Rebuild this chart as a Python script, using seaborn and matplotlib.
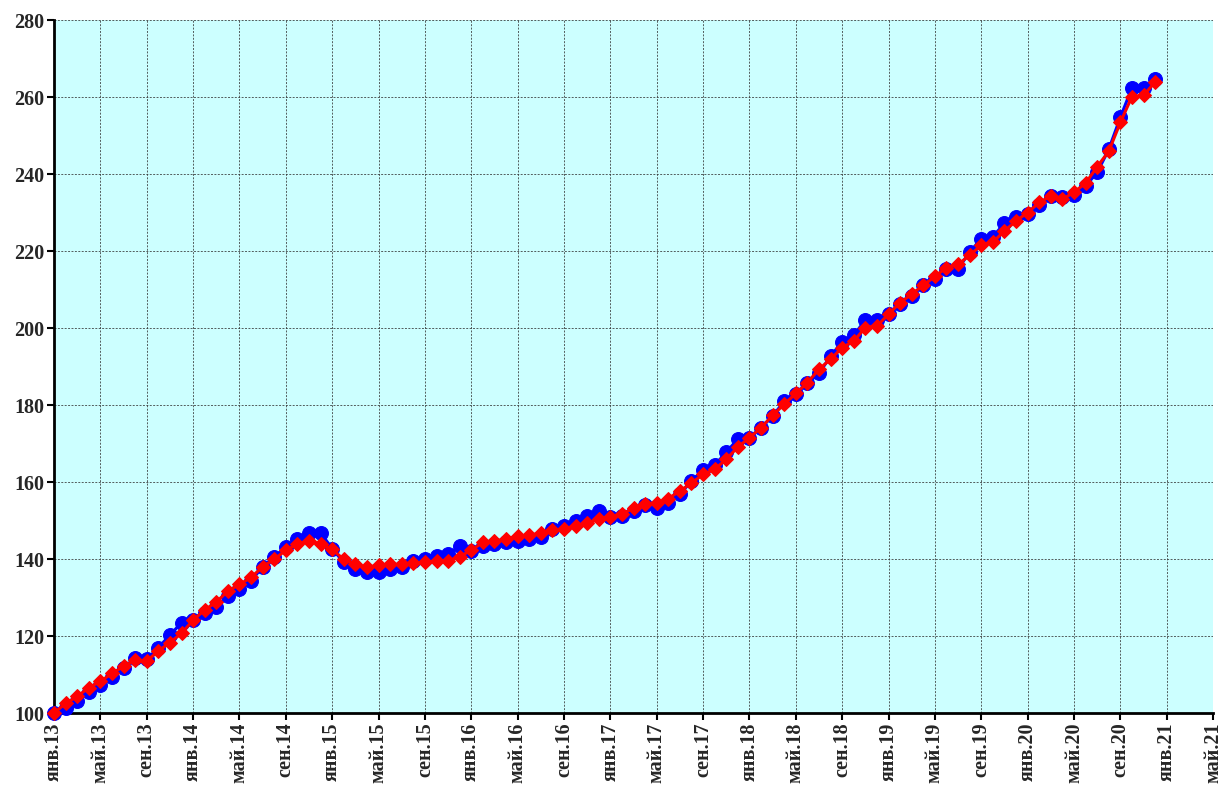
import matplotlib
matplotlib.use('Agg')
import matplotlib.pyplot as plt
import seaborn as sns
import pandas as pd
import numpy as np

# monthly index values, Jan 2013 = 100 (Jan 2013 .. Dec 2020)
blue_values = [
    100.0, 101.4, 103.1, 105.5, 107.2, 109.4, 111.6, 114.4, 113.9, 117.0, 120.2, 123.5,
    124.1, 126.1, 127.6, 130.4, 132.1, 134.3, 138.0, 140.4, 143.0, 145.1, 146.8, 146.8,
    142.7, 139.1, 137.3, 136.5, 136.5, 137.3, 137.8, 139.5, 139.9, 140.8, 141.2, 143.4,
    142.0, 143.4, 143.8, 144.3, 144.7, 145.1, 145.6, 147.9, 148.7, 149.8, 151.2, 152.5,
    151.0, 151.2, 152.5, 153.9, 153.3, 154.5, 156.8, 160.3, 163.1, 164.3, 167.8, 171.1,
    171.5, 174.1, 177.1, 181.0, 182.8, 185.7, 188.2, 192.7, 196.4, 198.1, 202.1, 202.1,
    203.6, 206.2, 208.3, 211.1, 212.8, 215.2, 215.4, 219.7, 223.2, 223.7, 227.2, 228.9,
    229.5, 231.9, 234.3, 233.9, 234.5, 236.9, 240.4, 246.4, 254.7, 262.4, 262.4, 264.6,
]
red_values = [
    100.0, 102.5, 104.3, 106.6, 108.2, 110.3, 112.1, 113.7, 113.5, 116.1, 118.3, 120.7,
    124.1, 126.8, 128.8, 131.7, 133.4, 135.2, 138.0, 139.9, 142.3, 143.8, 144.7, 143.8,
    142.5, 139.9, 138.6, 137.8, 138.4, 138.6, 138.6, 138.9, 139.2, 139.5, 139.5, 140.6,
    142.3, 144.3, 144.7, 145.1, 146.0, 146.2, 146.7, 147.5, 147.7, 148.7, 149.3, 150.3,
    151.0, 151.6, 153.3, 154.4, 154.5, 155.7, 157.7, 159.7, 162.0, 163.3, 165.9, 169.1,
    171.5, 174.1, 177.3, 180.2, 183.0, 185.8, 189.3, 191.9, 194.9, 196.6, 200.1, 200.5,
    203.6, 206.6, 208.8, 211.1, 213.4, 215.7, 216.5, 218.9, 221.5, 222.3, 225.2, 227.8,
    230.0, 232.6, 234.3, 233.4, 235.3, 237.6, 241.9, 245.9, 253.4, 260.1, 260.4, 263.9,
]
month_names = ['янв', 'май', 'сен']
tick_years = [13, 14, 15, 16, 17, 18, 19, 20, 21]
tick_labels = [f'{m}.{y}' for y in tick_years for m in month_names][:26]

months = np.arange(len(blue_values))
df = pd.DataFrame({'month': months, 'blue': blue_values, 'red': red_values})

sns.set_style('ticks', rc={'axes.facecolor': '#CCFFFF'})
plt.rcParams['font.family'] = ['Liberation Serif', 'DejaVu Serif']

fig = plt.figure(figsize=(12.22, 7.94), dpi=100)
ax = fig.add_axes([0.0442, 0.102, 0.9485, 0.8728])

sns.lineplot(data=df, x='month', y='blue', ax=ax, color='#0000FF', linewidth=2.2,
             marker='o', markersize=10, markeredgecolor='#0000FF', zorder=3, clip_on=False)
sns.lineplot(data=df, x='month', y='red', ax=ax, color='#FF0000', linewidth=2.2,
             marker='D', markersize=7.5, markeredgecolor='#FF0000', zorder=4, clip_on=False)

ax.set_xlim(0, 100)
ax.set_ylim(100, 280)
ax.set_xticks(np.arange(0, 101, 4))
ax.set_xticklabels(tick_labels, rotation=90, fontsize=14.5, fontweight='bold')
ax.set_yticks(np.arange(100, 281, 20))
ax.set_yticklabels([str(v) for v in range(100, 281, 20)], fontsize=14.5, fontweight='bold')
ax.set_xlabel('')
ax.set_ylabel('')

ax.grid(True, color='#333333', linestyle=(0, (2, 1.5)), linewidth=0.7, alpha=0.8)
ax.set_axisbelow(True)
for side in ['top', 'right']:
    ax.spines[side].set_visible(False)
for side in ['left', 'bottom']:
    ax.spines[side].set_linewidth(2)
    ax.spines[side].set_color('black')
ax.tick_params(axis='both', direction='out', length=5, width=1.5, color='black', pad=2)

fig.savefig('out.png', dpi=100)
